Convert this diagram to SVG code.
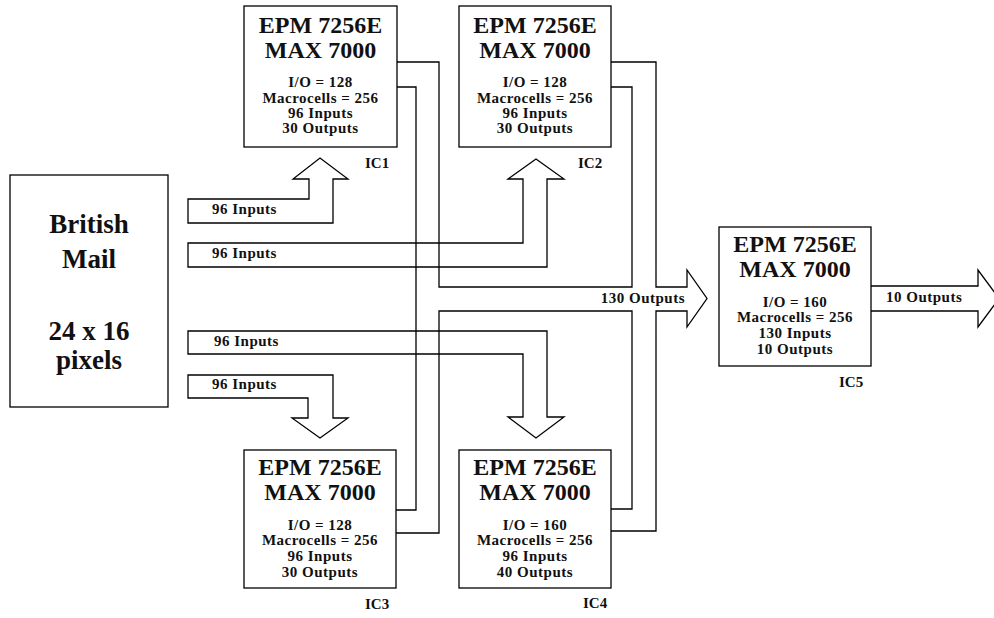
<svg xmlns="http://www.w3.org/2000/svg" width="994" height="618" viewBox="0 0 994 618">
<style>
  .box{fill:#fff;stroke:#000;stroke-width:1.3}
  .ln{fill:none;stroke:#000;stroke-width:1.3;stroke-linejoin:miter}
  text{font-family:"Liberation Serif","Times New Roman",serif;font-weight:bold;fill:#111}
  .big{font-size:24px;text-anchor:middle}
  .sm{font-size:15px;text-anchor:middle;letter-spacing:0.5px}
  .lab{font-size:15px;letter-spacing:0.5px}
  .ic{font-size:15px}
  .bm{font-size:27px;text-anchor:middle}
</style>
<rect width="994" height="618" fill="#fff"/>
<g id="connectors">
  <polygon class="ln" points="188,199 309,199 309,179 293,179 320,158 348,179 333,179 333,223 188,223"/>
  <polygon class="ln" points="188,243 523,243 523,179 508,179 536,159 564,179 547,179 547,267 188,267"/>
  <polygon class="ln" points="188,331 547,331 547,417 564,417 536,438 508,417 523,417 523,354 188,354"/>
  <polygon class="ln" points="188,375 333,375 333,418 348,418 320,438 292,418 308,418 308,398 188,398"/>
  <polyline class="ln" points="397,62 439,62 439,287 632,287 632,87 611,87"/>
  <polyline class="ln" points="397,87 416,87 416,510 396,510"/>
  <polyline class="ln" points="611,62 656,62 656,287 687,287 687,270 707,298.5 687,327 687,311 656,311 656,531 611,531"/>
  <polyline class="ln" points="396,533 439,533 439,311 632,311 632,509 611,509"/>
  <polyline class="ln" points="871,286 978,286 978,270 999,298.5 978,327 978,311 871,311"/>
  <text class="lab" x="212" y="214">96 Inputs</text>
  <text class="lab" x="212" y="258">96 Inputs</text>
  <text class="lab" x="214" y="346">96 Inputs</text>
  <text class="lab" x="212" y="389">96 Inputs</text>
  <text class="lab" x="685" y="303" text-anchor="end">130 Outputs</text>
  <text class="lab" x="886" y="302">10 Outputs</text>
</g>
<g id="british-mail">
  <rect class="box" x="10" y="175" width="158" height="232"/>
  <text class="bm" x="89" y="233">British</text>
  <text class="bm" x="89" y="268">Mail</text>
  <text class="bm" x="89" y="340">24 x 16</text>
  <text class="bm" x="89" y="369">pixels</text>
</g>
<g id="ic1">
  <rect class="box" x="244" y="6" width="153" height="141"/>
  <text class="big" x="320.5" y="33">EPM 7256E</text>
  <text class="big" x="320.5" y="58">MAX 7000</text>
  <text class="sm" x="320.5" y="87">I/O = 128</text>
  <text class="sm" x="320.5" y="103">Macrocells = 256</text>
  <text class="sm" x="320.5" y="118">96 Inputs</text>
  <text class="sm" x="320.5" y="133">30 Outputs</text>
  <text class="ic" x="365" y="168">IC1</text>
</g>
<g id="ic2">
  <rect class="box" x="459" y="6" width="152" height="141"/>
  <text class="big" x="535" y="33">EPM 7256E</text>
  <text class="big" x="535" y="58">MAX 7000</text>
  <text class="sm" x="535" y="87">I/O = 128</text>
  <text class="sm" x="535" y="103">Macrocells = 256</text>
  <text class="sm" x="535" y="118">96 Inputs</text>
  <text class="sm" x="535" y="133">30 Outputs</text>
  <text class="ic" x="578" y="168">IC2</text>
</g>
<g id="ic3">
  <rect class="box" x="244" y="450" width="152" height="138"/>
  <text class="big" x="320" y="475">EPM 7256E</text>
  <text class="big" x="320" y="500">MAX 7000</text>
  <text class="sm" x="320" y="530">I/O = 128</text>
  <text class="sm" x="320" y="545">Macrocells = 256</text>
  <text class="sm" x="320" y="561">96 Inputs</text>
  <text class="sm" x="320" y="577">30 Outputs</text>
  <text class="ic" x="365" y="609">IC3</text>
</g>
<g id="ic4">
  <rect class="box" x="459" y="450" width="152" height="138"/>
  <text class="big" x="535" y="475">EPM 7256E</text>
  <text class="big" x="535" y="500">MAX 7000</text>
  <text class="sm" x="535" y="530">I/O = 160</text>
  <text class="sm" x="535" y="545">Macrocells = 256</text>
  <text class="sm" x="535" y="561">96 Inputs</text>
  <text class="sm" x="535" y="577">40 Outputs</text>
  <text class="ic" x="583" y="608">IC4</text>
</g>
<g id="ic5">
  <rect class="box" x="719" y="227" width="152" height="139"/>
  <text class="big" x="795" y="252">EPM 7256E</text>
  <text class="big" x="795" y="277">MAX 7000</text>
  <text class="sm" x="795" y="307">I/O = 160</text>
  <text class="sm" x="795" y="322">Macrocells = 256</text>
  <text class="sm" x="795" y="338">130 Inputs</text>
  <text class="sm" x="795" y="354">10 Outputs</text>
  <text class="ic" x="839" y="387">IC5</text>
</g>
</svg>
